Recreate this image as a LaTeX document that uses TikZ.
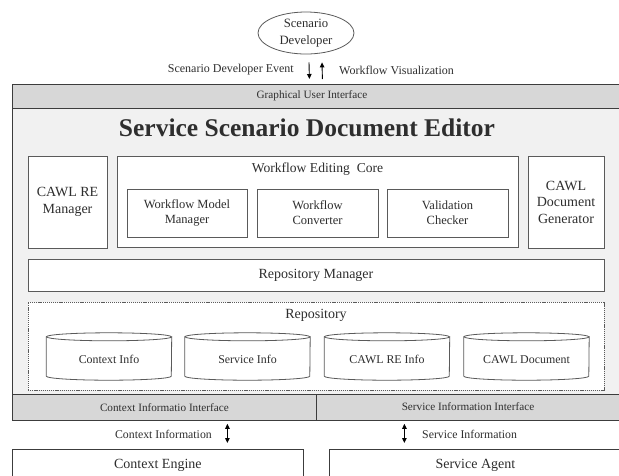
\documentclass[tikz,border=0pt]{standalone}
\usepackage{fontspec}
\setmainfont{Liberation Serif}
\usetikzlibrary{arrows.meta,calc,shapes.geometric}

\definecolor{barfill}{HTML}{D7D7D7}
\definecolor{panelfill}{HTML}{F1F1F1}
\definecolor{edge}{HTML}{3C3C3C}
\definecolor{softedge}{HTML}{5A5A5A}
\definecolor{ink}{HTML}{2E2E2E}

\tikzset{
  every node/.style={text=ink},
  box/.style={draw=softedge, line width=0.8pt, fill=white, rectangle, inner sep=0pt, align=center},
  bar/.style={draw=edge, line width=0.8pt, fill=barfill, rectangle, inner sep=0pt, font=\fontsize{11.2}{13}\selectfont},
  plainlabel/.style={inner sep=0pt, font=\fontsize{11.2}{13}\selectfont},
  sidelabel/.style={inner sep=0pt, font=\fontsize{11.8}{14}\selectfont},
  midtext/.style={font=\fontsize{12.5}{15}\selectfont, align=center},
  bigtext/.style={font=\fontsize{14}{17}\selectfont, align=center},
  arr/.style={draw=black, line width=0.9pt, -{Triangle[length=5pt,width=4.5pt]}},
  dblarr/.style={draw=black, line width=0.9pt, {Triangle[length=5pt,width=4.5pt]}-{Triangle[length=5pt,width=4.5pt]}},
}

% database cylinder: centre x, centre y, node name, label
\newcommand{\dbstore}[4]{%
  \node[inner sep=0pt, minimum width=125pt, minimum height=47pt] (#3) at (#1,#2) {};
  \draw[softedge, line width=0.8pt, fill=white]
    ($(#3.north west)+(0,4)$) -- ($(#3.south west)+(0,-4)$)
    arc (180:0:62.5 and 4) -- ($(#3.north east)+(0,4)$)
    arc (0:180:62.5 and 4) -- cycle;
  \draw[softedge, line width=0.8pt] ($(#3.north west)+(0,4)$) arc (180:360:62.5 and 4);
  \node[inner sep=0pt, font=\fontsize{11.9}{14}\selectfont] at ($(#3.center)+(0,3)$) {#4};
}

\begin{document}
\begin{tikzpicture}[x=1pt, y=-1pt]
  \useasboundingbox (0,0) rectangle (619,475);

  % scenario developer
  \node[ellipse, draw=softedge, line width=0.8pt, minimum width=96pt, minimum height=42pt, inner sep=0pt, font=\fontsize{12.7}{16.5}\selectfont, align=center] (dev) at (306,33) {Scenario\\Developer};

  % graphical user interface bar and the editor panel
  \node[bar, minimum width=610pt, minimum height=24pt, anchor=north west] (gui) at (12,84) {};
  \node[plainlabel] at (312,96) {Graphical User Interface};
  \node[draw=edge, line width=0.8pt, fill=panelfill, minimum width=610pt, minimum height=286pt, anchor=north west, inner sep=0pt] (editor) at (12,108) {};
  \node[font=\fontsize{25.5}{28}\bfseries\selectfont] (title) at (307,128) {Service Scenario Document Editor};

  % GUI traffic
  \draw[arr] ($(dev.south)+(3,8)$) -- ($(gui.north)+(-8,-5)$);
  \draw[arr] ($(gui.north)+(5,-5)$) -- ($(dev.south)+(16,8)$);
  \node[sidelabel, anchor=east, font=\fontsize{12}{14}\selectfont] (evt) at (294,70) {Scenario Developer Event};
  \node[sidelabel, anchor=west, font=\fontsize{12}{14}\selectfont] (vis) at (339,70) {Workflow Visualization};

  % upper row of components
  \node[box, minimum width=79pt, minimum height=92pt, bigtext] (rem) at (67.5,202) {CAWL RE\\Manager};
  \node[box, minimum width=401pt, minimum height=91pt] (core) at (317.5,201.5) {};
  \node[font=\fontsize{13.6}{16}\selectfont] (coretitle) at (317.5,169) {Workflow Editing\ \ Core};
  \node[box, minimum width=120pt, minimum height=48pt, midtext] (wmm) at (187,213) {Workflow Model\\Manager};
  \node[box, minimum width=121pt, minimum height=48pt, midtext] (wc) at (317.5,213) {Workflow\\Converter};
  \node[box, minimum width=121pt, minimum height=48pt, midtext] (vc) at (447.5,213) {Validation\\Checker};
  \node[box, minimum width=76pt, minimum height=92pt, font=\fontsize{14}{16.5}\selectfont] (gen) at (566,202) {CAWL\\Document\\Generator};

  % repository manager and repository
  \node[box, minimum width=576pt, minimum height=32pt, bigtext] (repman) at (316,275) {Repository Manager};
  \node[draw=softedge, line width=0.7pt, dash pattern=on 1.2pt off 0.9pt, fill=white, minimum width=576pt, minimum height=88pt, inner sep=0pt] (repo) at (316,346) {};
  \node[bigtext] (repotitle) at (316,315) {Repository};

  \dbstore{109}{356.5}{ctxinfo}{Context Info}
  \dbstore{247.5}{356.5}{svcinfo}{Service Info}
  \dbstore{387}{356.5}{reinfo}{CAWL RE Info}
  \dbstore{526.5}{356.5}{cawldoc}{CAWL Document}

  % lower interfaces
  \node[bar, minimum width=304pt, minimum height=26pt, anchor=north west] (ctxif) at (12,394) {Context Informatio Interface};
  \node[bar, minimum width=306pt, minimum height=26pt, anchor=north west] (svcif) at (316,394) {};
  \node[plainlabel] at (468,407) {Service Information Interface};

  % external components
  \node[draw=edge, line width=0.8pt, fill=white, minimum width=291pt, minimum height=40pt, anchor=north west, inner sep=0pt] (engine) at (12,449) {};
  \node[bigtext] at ($(engine.north)+(0,16)$) {Context Engine};
  \node[draw=edge, line width=0.8pt, fill=white, minimum width=292pt, minimum height=40pt, anchor=north west, inner sep=0pt] (agent) at (329,449) {};
  \node[bigtext] at ($(agent.north)+(0,16)$) {Service Agent};

  \draw[dblarr] ($(ctxif.south)+(63,3)$) -- ($(engine.north)+(69.5,-6)$);
  \draw[dblarr] ($(svcif.south)+(-65,3)$) -- ($(agent.north)+(-71,-6)$);
  \node[sidelabel, anchor=east] (ctxlbl) at (212,434) {Context Information};
  \node[sidelabel, anchor=west] (svclbl) at (422,434) {Service Information};
\end{tikzpicture}
\end{document}
